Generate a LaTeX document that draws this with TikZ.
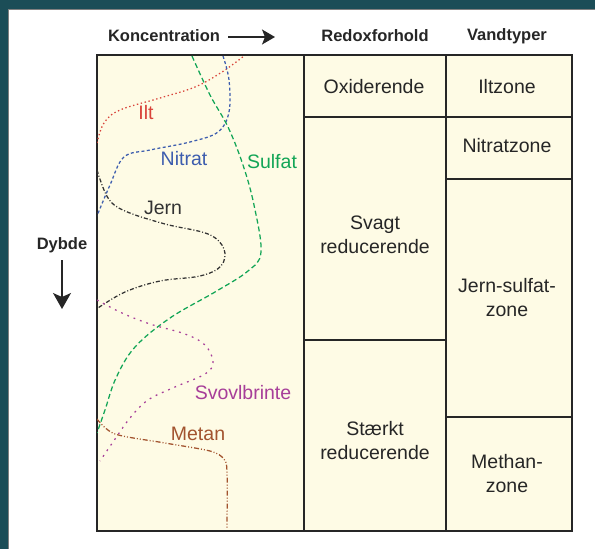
\documentclass[tikz,border=0pt]{standalone}
\usepackage{fontspec}
\setmainfont{Liberation Sans}
\usetikzlibrary{arrows.meta}
\definecolor{frameteal}{HTML}{1B4D57}
\definecolor{cream}{HTML}{FEFBE5}
\definecolor{ink}{HTML}{262626}
\definecolor{iltc}{HTML}{D9433A}
\definecolor{nitc}{HTML}{3D5DAE}
\definecolor{sulc}{HTML}{12A556}
\definecolor{jernc}{HTML}{333333}
\definecolor{svoc}{HTML}{A73E99}
\definecolor{metc}{HTML}{A2532E}
\begin{document}
\begin{tikzpicture}[x=1pt,y=-1pt,
  head/.style={font=\fontsize{16.5}{19}\selectfont\bfseries, text=ink, inner sep=0pt},
  celltext/.style={font=\fontsize{19.5}{24}\selectfont, text=ink, align=center, inner sep=0pt},
  curvelabel/.style={font=\fontsize{19.5}{24}\selectfont, inner sep=0pt},
  gridline/.style={draw=ink, line width=1.1pt},
  curve/.style={line width=1.25pt},
  harrow/.style={draw=ink, line width=1.4pt, -{Stealth[length=13pt,width=15pt,inset=3pt]}},
  varrow/.style={draw=ink, line width=1.4pt, -{Stealth[length=16pt,width=18pt,inset=4pt]}}
]
\useasboundingbox (0,0) rectangle (595,549);
\fill[frameteal] (0,0) rectangle (595,549);
\fill[white] (8,9) rectangle (595,549);
\draw[gray, line width=1pt] (8.5,549) -- (8.5,9.5) -- (595,9.5);

% headings
\node[head] (konc) at (164,36) {Koncentration};
\coordinate (kaS) at (228,37);
\coordinate (kaE) at (275,37);
\draw[harrow] (kaS) -- (kaE);
\node[head] (redox) at (375,36) {Redoxforhold};
\node[head] (vand) at (507,36) {Vandtyper};
\node[head] (dybde) at (62,245) {Dybde};
\coordinate (daS) at (62,260);
\coordinate (daE) at (62,309);
\draw[varrow] (daS) -- (daE);

% table
\fill[cream] (97,55) rectangle (572,531);
\draw[gridline] (304,117) -- (572,117);
\draw[gridline] (304,340) -- (446,340);
\draw[gridline] (446,179) -- (572,179);
\draw[gridline] (446,417) -- (572,417);
\draw[gridline] (304,55) -- (304,531);
\draw[gridline] (446,55) -- (446,531);
\draw[gridline] (97,55) rectangle (572,531);

% cell texts
\node[celltext] (oxi) at (374,86.5) {Oxiderende};
\node[celltext] (svagt) at (375,235) {Svagt\\reducerende};
\node[celltext] (staerkt) at (375,441) {Stærkt\\reducerende};
\node[celltext] (ilt) at (507,87) {Iltzone};
\node[celltext] (nitz) at (507,146) {Nitratzone};
\node[celltext] (jsz) at (507,297.5) {Jern-sulfat-\\zone};
\node[celltext] (mz) at (507,474) {Methan-\\zone};

% curves
\begin{scope}
\clip (97,55) rectangle (304,531);
\draw[curve, iltc, dash pattern=on 1.4pt off 2.6pt] plot[smooth, tension=0.6] coordinates
  {(97,143) (104,123) (120,110) (160,98) (195,87) (222,72) (244,56)};
\draw[curve, nitc, dash pattern=on 3pt off 2.4pt] plot[smooth, tension=0.6] coordinates
  {(223,56) (229,80) (229,112) (218,132) (190,142) (150,150) (124,157) (110,185) (97,216)};
\draw[curve, sulc, dash pattern=on 5pt off 3pt] plot[smooth, tension=0.6] coordinates
  {(192,56) (210,95) (228,127) (243,165) (254,205) (261,252) (248,271) (215,292) (170,318) (135,347) (116,378) (105,410) (97,433)};
\draw[curve, jernc, dash pattern=on 4pt off 2pt on 1pt off 2pt] plot[smooth, tension=0.6] coordinates
  {(97,170) (108,198) (125,211) (165,224) (208,234) (224,249) (221,266) (200,276) (160,281) (125,292) (98,308)};
\draw[curve, svoc, dash pattern=on 1.8pt off 5pt] plot[smooth, tension=0.6] coordinates
  {(97,300) (122,313) (150,324) (185,334) (205,345) (213,362) (205,374) (175,387) (148,400) (130,418) (113,442) (100,461)};
\draw[curve, metc, dash pattern=on 5pt off 2pt on 1pt off 2pt on 1pt off 2pt] plot[smooth, tension=0.5] coordinates
  {(97,419) (115,434) (165,443) (210,451) (224,459) (227,472) (227,529)};
\end{scope}

% curve labels
\node[curvelabel, text=iltc] (liilt) at (146,113) {Ilt};
\node[curvelabel, text=nitc] (linit) at (184,159) {Nitrat};
\node[curvelabel, text=sulc] (lisul) at (272,162) {Sulfat};
\node[curvelabel, text=jernc] (lijern) at (163,208) {Jern};
\node[curvelabel, text=svoc] (lisvo) at (243,393) {Svovlbrinte};
\node[curvelabel, text=metc] (limet) at (198,434) {Metan};
\end{tikzpicture}
\end{document}
